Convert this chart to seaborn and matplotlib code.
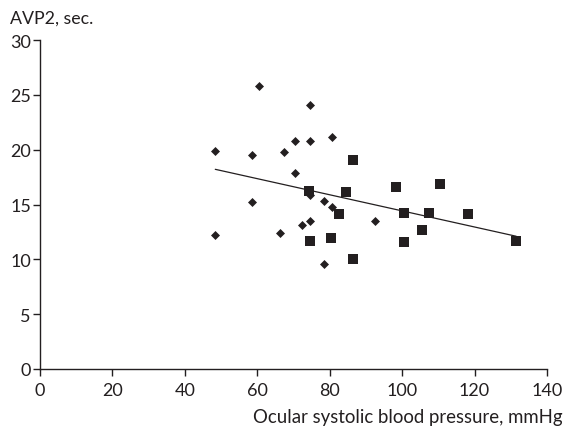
import numpy as np
import pandas as pd
import matplotlib.pyplot as plt
import seaborn as sns

# Diamonds (first group)
diamond_x = [48.4, 48.4, 58.5, 58.5, 60.6, 66.2, 67.5, 70.4, 70.5, 72.3,
             74.5, 74.5, 74.5, 74.5, 78.4, 78.5, 80.5, 80.5, 92.4]
diamond_y = [19.9, 12.2, 19.5, 15.2, 25.8, 12.4, 19.8, 17.9, 20.8, 13.1,
             24.1, 20.8, 15.9, 13.5, 15.3, 9.6, 14.8, 21.2, 13.5]

# Squares (second group)
square_x = [74.4, 74.6, 80.3, 82.6, 84.5, 86.4, 86.4, 98.3, 100.5, 100.5,
            105.5, 107.4, 110.5, 118.2, 131.5]
square_y = [16.2, 11.7, 11.9, 14.1, 16.1, 19.1, 10.0, 16.6, 14.2, 11.6,
            12.7, 14.2, 16.9, 14.1, 11.7]

x_ticks = [0, 20, 40, 60, 80, 100, 120, 140]
y_ticks = [0, 5, 10, 15, 20, 25, 30]

ink = "#231f20"

sns.set_style("ticks")
plt.rcParams['font.family'] = ['Lato', 'DejaVu Sans']

dfa = pd.DataFrame({"x": diamond_x, "y": diamond_y})
dfb = pd.DataFrame({"x": square_x, "y": square_y})
dfall = pd.concat([dfa, dfb], ignore_index=True)

fig = plt.figure(figsize=(5.65, 4.31), dpi=100)
ax = fig.add_axes([40 / 565, 1 - 370 / 431, 507 / 565, 329 / 431])

sns.scatterplot(data=dfa, x="x", y="y", marker="D", s=21, color=ink,
                linewidth=0, ax=ax, zorder=3)
sns.scatterplot(data=dfb, x="x", y="y", marker="s", s=52, color=ink,
                linewidth=0, ax=ax, zorder=3)
sns.regplot(data=dfall, x="x", y="y", scatter=False, ci=None, truncate=True,
            line_kws={"color": ink, "linewidth": 0.9}, ax=ax)

ax.set_xlim(0, 140)
ax.set_ylim(0, 30)
ax.set_xticks(x_ticks)
ax.set_yticks(y_ticks)
ax.set_xlabel("")
ax.set_ylabel("")
sns.despine(ax=ax)
for s in ["left", "bottom"]:
    ax.spines[s].set_color(ink)
    ax.spines[s].set_linewidth(1.0)
ax.tick_params(axis="both", length=5, width=1.0, color=ink,
               labelsize=13, labelcolor=ink)
ax.tick_params(axis="x", pad=4.5)
ax.tick_params(axis="y", pad=1.5)

fig.text(10 / 565, 1 - 19 / 431, "AVP2, sec.", fontsize=12.8, color=ink,
         ha="left", va="center")
fig.text(563 / 565, 1 - 418 / 431, "Ocular systolic blood pressure, mmHg",
         fontsize=13.4, color=ink, ha="right", va="center")

fig.savefig("out.png", dpi=100)
